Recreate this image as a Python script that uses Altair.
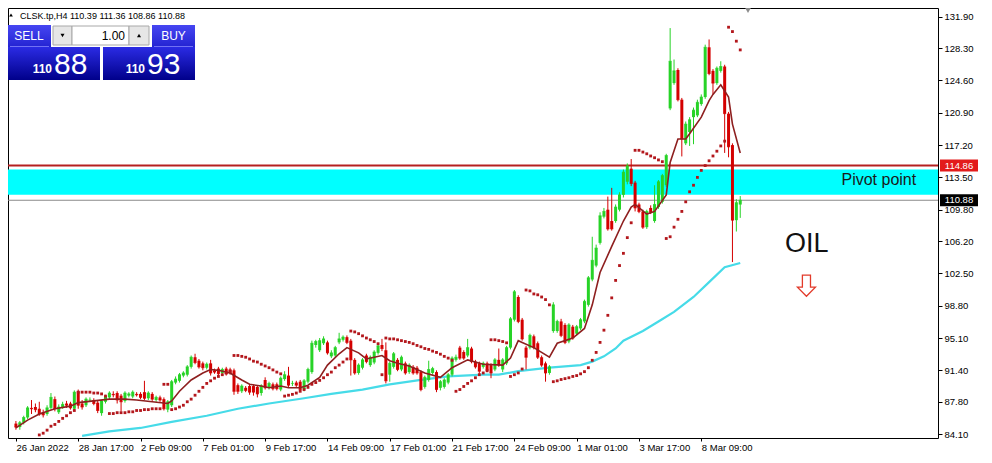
import altair as alt
import pandas as pd

# ---------------- values ----------------
symbol = "CLSK.tp,H4"
date_labels = ["26 Jan 2022", "28 Jan 17:00", "2 Feb 09:00", "7 Feb 01:00", "9 Feb 17:00",
               "14 Feb 09:00", "17 Feb 01:00", "21 Feb 17:00", "24 Feb 09:00", "1 Mar 01:00",
               "3 Mar 17:00", "8 Mar 09:00"]
bars_per_label = 16
price_ticks = [131.90, 128.30, 124.60, 120.90, 117.20, 113.50, 109.80, 106.20,
               102.50, 98.80, 95.10, 91.40, 87.80, 84.10]

opens = [
    85.3, 84.9, 85.4, 86.0, 87.1, 87.2, 87.0, 86.6, 86.4, 87.1,
    88.1, 86.6, 87.2, 87.6, 87.6, 87.0, 89.0, 87.6, 87.4, 88.0,
    88.0, 87.7, 86.5, 87.8, 88.3, 88.7, 88.8, 88.5, 87.9, 88.5,
    88.4, 88.7, 88.7, 88.9, 88.2, 88.7, 88.0, 88.3, 88.1, 86.9,
    87.4, 90.0, 90.2, 90.8, 90.9, 91.8, 92.9, 92.5, 92.2, 91.7,
    92.2, 91.4, 91.6, 91.1, 91.6, 91.5, 91.4, 89.7, 89.0, 89.4,
    89.6, 89.6, 89.5, 88.8, 90.3, 89.4, 89.8, 89.8, 89.2, 90.4,
    90.8, 89.9, 90.0, 90.1, 89.2, 90.1, 91.2, 94.3, 93.7, 94.5,
    94.6, 93.0, 93.1, 94.6, 94.9, 95.2, 94.8, 92.6, 91.1, 91.7,
    93.1, 92.0, 92.3, 93.4, 94.3, 93.7, 90.9, 91.8, 92.6, 91.5,
    92.2, 91.2, 91.8, 91.7, 91.2, 89.5, 90.3, 91.1, 91.2, 89.4,
    89.5, 90.0, 90.9, 92.6, 94.0, 93.5, 93.1, 93.9, 92.4, 92.2,
    91.8, 92.2, 92.0, 91.5, 92.6, 91.5, 92.2, 94.0, 97.2, 99.8,
    97.2, 94.0, 94.0, 95.3, 94.5, 92.9, 92.2, 91.1, 95.9, 95.9,
    97.0, 96.6, 94.7, 96.4, 95.6, 96.2, 97.0, 98.9, 101.8, 103.4,
    106.0, 109.0, 109.8, 108.5, 108.5, 109.8, 111.5, 113.0, 114.5, 112.9,
    110.4, 109.6, 107.8, 110.0, 108.5, 110.1, 110.7, 112.6, 121.4, 124.3,
    125.8, 122.4, 117.4, 118.7, 120.4, 120.6, 121.9, 122.7, 128.4, 125.7,
    124.3, 125.7, 126.2, 120.8, 117.2, 108.6, 110.39]

closes = [
    84.9, 85.4, 86.0, 87.1, 87.0, 86.9, 86.4, 86.3, 87.1, 88.3,
    87.0, 87.2, 87.5, 87.4, 87.1, 88.9, 87.4, 87.2, 88.1, 88.0,
    87.6, 86.8, 87.9, 88.4, 88.8, 88.6, 88.0, 87.8, 88.8, 88.7,
    88.9, 88.6, 88.3, 88.2, 88.8, 88.1, 88.3, 88.0, 87.0, 87.8,
    90.1, 90.4, 90.9, 91.1, 91.8, 92.9, 92.3, 91.8, 91.7, 92.1,
    91.1, 91.2, 91.0, 91.5, 91.0, 91.1, 89.0, 89.0, 89.6, 89.1,
    88.9, 88.9, 88.7, 89.6, 89.4, 89.9, 89.3, 89.3, 90.5, 90.9,
    89.7, 89.9, 89.7, 89.2, 90.2, 91.5, 94.5, 94.7, 94.8, 95.0,
    93.4, 93.4, 94.0, 95.0, 95.2, 94.6, 92.6, 91.1, 92.0, 92.6,
    92.4, 92.9, 93.5, 94.2, 93.9, 90.2, 92.2, 93.3, 91.5, 92.9,
    91.1, 92.0, 91.1, 91.1, 89.2, 90.6, 91.5, 91.6, 89.2, 90.1,
    90.3, 90.9, 92.8, 92.9, 92.8, 92.8, 94.0, 92.4, 91.8, 91.3,
    92.2, 91.4, 91.1, 92.6, 92.0, 92.6, 94.0, 97.3, 100.4, 97.0,
    95.0, 92.9, 95.4, 94.0, 92.9, 92.0, 91.1, 91.8, 98.9, 97.0,
    95.4, 94.6, 96.6, 95.1, 96.4, 97.2, 99.3, 102.0, 104.0, 105.4,
    109.1, 109.6, 107.6, 107.6, 110.1, 111.5, 114.1, 114.8, 112.8, 110.0,
    109.6, 107.8, 109.6, 109.5, 110.4, 113.0, 113.7, 116.0, 126.8, 125.7,
    122.4, 117.9, 119.6, 120.1, 121.2, 122.1, 122.7, 128.4, 125.4, 124.3,
    126.0, 126.2, 120.8, 117.0, 108.6, 110.6, 110.88]

highs = [
    85.6, 85.6, 86.2, 87.3, 88.0, 87.6, 87.8, 86.9, 87.4, 88.8,
    88.4, 87.5, 87.8, 87.9, 87.8, 89.1, 89.2, 88.0, 88.3, 88.3,
    88.2, 88.0, 88.0, 88.6, 89.0, 89.0, 89.0, 88.7, 89.0, 88.9,
    89.1, 88.9, 88.9, 90.2, 89.0, 88.9, 88.5, 88.5, 88.3, 88.0,
    90.3, 90.7, 91.1, 91.3, 92.0, 93.1, 93.3, 92.7, 92.4, 92.3,
    92.6, 91.6, 91.8, 91.7, 91.8, 91.7, 91.6, 89.9, 89.8, 89.6,
    89.8, 89.8, 89.7, 89.8, 90.6, 90.1, 90.0, 90.0, 90.7, 91.3,
    91.8, 90.2, 90.2, 90.3, 90.4, 91.7, 94.8, 94.9, 95.1, 95.3,
    94.8, 93.7, 94.2, 95.7, 95.4, 95.4, 95.0, 92.8, 92.2, 92.8,
    93.3, 93.1, 93.7, 94.5, 95.0, 94.6, 92.4, 93.5, 92.8, 93.1,
    92.4, 92.2, 92.0, 91.9, 91.4, 90.8, 92.5, 91.8, 91.4, 90.3,
    90.5, 91.1, 93.0, 93.2, 94.2, 93.7, 95.0, 94.1, 92.6, 92.4,
    92.4, 92.4, 92.2, 92.8, 93.9, 92.8, 94.2, 97.5, 100.6, 100.0,
    97.4, 94.2, 95.6, 95.5, 94.7, 93.1, 92.4, 92.0, 99.2, 97.2,
    97.3, 96.8, 96.8, 96.6, 96.6, 97.4, 99.5, 102.2, 106.7, 105.8,
    109.5, 110.0, 111.3, 112.3, 110.4, 111.8, 114.4, 115.1, 115.6, 113.1,
    110.6, 109.8, 109.8, 110.3, 112.6, 113.2, 113.9, 116.2, 130.6, 127.0,
    126.0, 122.6, 119.9, 120.4, 121.5, 122.4, 123.0, 128.7, 129.3, 125.9,
    126.2, 126.8, 126.4, 121.0, 117.4, 111.0, 111.36]

lows = [
    84.6, 84.6, 85.2, 85.8, 86.4, 86.6, 86.2, 86.0, 86.2, 86.9,
    86.7, 86.4, 87.0, 87.1, 86.9, 86.8, 87.0, 86.9, 87.2, 87.8,
    87.4, 86.5, 86.2, 87.6, 88.1, 88.3, 87.6, 86.7, 87.7, 88.3,
    88.2, 88.4, 88.1, 88.0, 88.0, 87.9, 87.8, 87.8, 86.8, 86.6,
    87.2, 89.8, 90.0, 90.6, 90.7, 91.6, 92.1, 91.6, 91.4, 91.5,
    90.8, 91.0, 90.8, 90.9, 90.8, 90.9, 88.6, 88.7, 88.8, 88.9,
    88.6, 88.5, 88.3, 88.5, 89.2, 89.2, 89.1, 89.1, 89.0, 90.2,
    89.5, 89.6, 89.5, 89.0, 89.0, 89.9, 91.0, 94.0, 93.5, 94.3,
    93.2, 92.8, 92.9, 94.4, 94.7, 94.4, 90.8, 90.9, 90.9, 91.5,
    92.2, 91.8, 92.1, 93.2, 93.6, 89.9, 90.1, 91.6, 91.3, 91.3,
    90.9, 91.0, 90.9, 90.9, 89.0, 89.3, 90.1, 90.9, 88.9, 89.1,
    89.3, 89.8, 90.7, 92.4, 92.6, 92.6, 92.9, 92.2, 91.6, 91.0,
    91.6, 91.2, 90.5, 91.3, 91.8, 91.2, 92.0, 93.8, 97.0, 96.8,
    94.8, 91.5, 93.8, 93.8, 92.7, 91.8, 90.1, 90.9, 95.7, 95.7,
    95.2, 94.4, 94.5, 94.9, 95.4, 96.0, 96.8, 98.7, 101.6, 103.2,
    105.8, 108.8, 107.4, 107.4, 108.3, 109.6, 111.2, 112.7, 112.5, 109.6,
    109.4, 107.6, 107.6, 109.3, 108.3, 109.9, 110.5, 112.4, 121.2, 124.1,
    122.2, 115.9, 117.2, 117.1, 117.3, 120.4, 121.7, 122.5, 125.2, 123.0,
    124.1, 125.5, 116.3, 115.8, 103.8, 107.3, 108.86]

# short moving average (dark red) sampled along the picture
ma_fast_idx = [0, 3, 6, 10, 14, 16, 20, 24, 28, 31, 35, 39, 40, 42, 45, 48, 50, 52, 55, 58,
               60, 63, 65, 68, 70, 73, 75, 78, 80, 83, 85, 88, 90, 92, 94, 96, 98, 101, 105, 109,
               112, 116, 120, 125, 127, 129, 130, 133, 137, 139, 143, 146, 148, 150, 153, 156, 158, 159, 162, 164,
               167, 168, 170, 172, 173, 176, 178, 179, 181, 183, 184, 186]
ma_fast_val = [84.8, 85.7, 86.4, 87.0, 87.3, 87.7, 87.9, 88.1, 88.1, 88.0, 87.8, 87.6, 87.9, 89.0, 90.3, 91.1, 91.5, 91.4, 91.1, 90.3,
               89.8, 89.6, 89.4, 89.6, 89.4, 89.4, 89.7, 90.6, 92.0, 93.3, 94.0, 93.4, 92.7, 92.9, 93.1, 92.5, 92.2, 91.9, 91.1, 90.6,
               91.7, 92.6, 92.1, 92.0, 92.8, 94.8, 94.6, 94.0, 92.9, 94.5, 95.1, 96.2, 98.9, 102.6, 105.6, 108.5, 110.1, 110.4, 109.3, 109.6,
               111.5, 115.2, 117.9, 117.9, 118.5, 120.4, 122.3, 123.0, 124.1, 122.7, 119.6, 116.3]

# long moving average (cyan)
ma_slow_idx = [17, 24, 32, 40, 49, 57, 65, 74, 81, 89, 96, 104, 111, 120, 124, 129, 137, 145, 148, 151,
               154, 156, 161, 165, 169, 174, 178, 182, 186]
ma_slow_val = [83.9, 84.4, 84.8, 85.5, 86.2, 87.0, 87.6, 88.2, 88.7, 89.2, 89.8, 90.3, 90.7, 90.9, 90.9, 91.3, 91.7, 92.0, 92.4, 93.0,
               93.9, 94.8, 95.9, 97.0, 98.1, 99.8, 101.5, 103.2, 103.7]

# parabolic SAR dots: (first bar, values)
sar_segments = [
    (6, [84.0, 84.2, 84.55, 85.0, 85.2, 85.55, 85.9, 86.2, 86.55, 86.8]),
    (16, [88.9, 88.9, 88.9, 88.9, 88.8, 88.8, 88.7, 88.45]),
    (24, [86.45, 86.45, 86.55, 86.55, 86.55, 86.65, 86.65, 86.8, 86.8, 86.9, 86.9, 87.0, 87.0, 87.0]),
    (38, [89.8, 89.8]),
    (40, [86.9, 87.0, 87.2, 87.4, 87.8, 88.1, 88.55, 89.0, 89.45, 89.9, 90.2, 90.5, 90.7, 90.9, 91.1, 91.3]),
    (56, [93.1, 93.1, 93.0, 92.9, 92.7, 92.45, 92.35, 92.1, 91.9, 91.7, 91.45, 91.2, 91.0]),
    (69, [88.45, 88.55, 88.65, 88.8, 89.0, 89.2, 89.45, 89.8, 90.0, 90.25, 90.55, 90.9, 91.2, 91.7, 92.0, 92.35, 92.7]),
    (86, [95.9, 95.8, 95.6, 95.35, 95.1, 94.9, 94.7, 94.45]),
    (94, [90.9]),
    (95, [95.1, 95.0, 95.0, 94.9, 94.8, 94.7, 94.6, 94.45, 94.25, 94.1, 93.9, 93.8, 93.6, 93.45, 93.25, 93.0, 92.8, 92.55]),
    (113, [89.0, 89.2, 89.55, 89.9, 90.2, 90.55, 90.9, 91.1, 91.35]),
    (122, [94.9, 94.9, 94.8, 94.7, 94.55]),
    (127, [90.7, 90.9, 91.1, 91.55]),
    (131, [100.6, 100.5, 100.15, 100.05, 99.8, 99.5, 98.9]),
    (138, [90.1, 90.2, 90.35, 90.45, 90.55, 90.7, 90.8, 91.0, 91.25, 91.7, 92.55, 93.45, 94.6, 96.0, 97.7,
           99.7, 101.7, 103.4, 104.8, 106.6, 108.3]),
    (159, [116.6, 116.6, 116.4, 116.2, 115.95, 115.75, 115.5, 115.3]),
    (167, [106.5, 106.7, 107.8, 108.7, 109.6, 110.7, 111.85, 112.6, 113.5, 114.3, 114.85, 115.4, 115.95,
           116.5, 117.1, 117.65]),
    (183, [130.7, 130.2, 129.1, 128.1]),
]

pivot_level = 114.86
zone_low, zone_high = 111.51, 114.41
bid, ask = 110.88, 110.93
lot = "1.00"

# annotation anchors (bar, price)
pivot_text_at = (212, 112.62)
oil_text_at = (197.5, 104.94)
arrow_at = (203, 101.09)
shift_marker_bar = 188

# ---------------- chart ----------------
FONT = "Liberation Sans"
GREEN = "#27d327"
RED = "#d40000"
SAR_COLOR = "#b3171c"
MA_FAST = "#8e1f1f"
MA_SLOW = "#46dbe8"

W, H = 930, 430
X_DOMAIN = [-0.75, 235.5]
Y_DOMAIN = [83.65, 132.9]
PX_PER_PRICE = H / (Y_DOMAIN[1] - Y_DOMAIN[0])

xs = alt.Scale(domain=X_DOMAIN, nice=False, zero=False)
ys = alt.Scale(domain=Y_DOMAIN, nice=False, zero=False)

candles = pd.DataFrame({"i": list(range(len(opens))), "o": opens, "h": highs, "l": lows, "c": closes})
fast = pd.DataFrame({"i": ma_fast_idx, "v": ma_fast_val})
slow = pd.DataFrame({"i": ma_slow_idx, "v": ma_slow_val})
sar = pd.DataFrame([{"i": s + k, "v": v} for s, vals in sar_segments for k, v in enumerate(vals)])

label_expr = "[" + ",".join("'%s'" % s for s in date_labels) + "][round(datum.value / %d)]" % bars_per_label
x_axis = alt.Axis(values=[k * bars_per_label for k in range(len(date_labels))], labelExpr=label_expr,
                  labelAlign="left", labelAngle=0, labelPadding=1, tickSize=3, labelOverlap=False,
                  labelFlush=False, labelBaseline="top", tickCount=40)
y_axis = alt.Axis(orient="right", values=price_ticks, format=".2f", tickSize=4, labelPadding=2,
                  labelOverlap=False, labelFlush=False, tickCount=40)

X = lambda f: alt.X(f, scale=xs, title=None)
Y = lambda f: alt.Y(f, scale=ys, title=None)
up_color = alt.condition("datum.c >= datum.o", alt.value(GREEN), alt.value(RED))

ONE = pd.DataFrame({"k": [0]})

def px_rect(x1, y1, x2, y2, **mk):
    return alt.Chart(ONE).mark_rect(**mk).encode(
        x=alt.value(x1), x2=alt.value(x2), y=alt.value(y1), y2=alt.value(y2))

def px_text(x, y, text, size, color="white", align="left", weight="normal"):
    return alt.Chart(ONE).mark_text(text=text, fontSize=size, color=color, align=align,
                                    baseline="alphabetic", font=FONT, fontWeight=weight).encode(
        x=alt.value(x), y=alt.value(y))

def px_point(x, y, shape, size, color):
    return alt.Chart(ONE).mark_point(shape=shape, size=size, filled=True, color=color, opacity=1).encode(
        x=alt.value(x), y=alt.value(y))

# background zone and levels
zone = alt.Chart(pd.DataFrame({"a": [zone_low], "b": [zone_high]})).mark_rect(color="#00ffff").encode(
    x=alt.value(0), x2=alt.value(W), y=Y("a:Q"), y2="b:Q")
pivot_rule = alt.Chart(pd.DataFrame({"p": [pivot_level]})).mark_rule(color="#b52020", strokeWidth=2).encode(y=Y("p:Q"))
bid_rule = alt.Chart(pd.DataFrame({"p": [bid]})).mark_rule(color="#8a8a8a", strokeWidth=1).encode(y=Y("p:Q"))

slow_line = alt.Chart(slow).mark_line(color=MA_SLOW, strokeWidth=2.2).encode(x=X("i:Q"), y=Y("v:Q"))

base = alt.Chart(candles).encode(x=alt.X("i:Q", scale=xs, axis=x_axis, title=None))
wicks = base.mark_rule(strokeWidth=1).encode(y=alt.Y("l:Q", scale=ys, axis=y_axis, title=None),
                                             y2="h:Q", color=up_color)
bodies = base.mark_bar(size=3).encode(y=Y("o:Q"), y2="c:Q", color=up_color)
doji = base.mark_tick(orient="horizontal", size=3, thickness=1).encode(y=Y("c:Q"), color=up_color)

fast_line = alt.Chart(fast).mark_line(color=MA_FAST, strokeWidth=1.6).encode(x=X("i:Q"), y=Y("v:Q"))
sar_pts = alt.Chart(sar).mark_square(size=8, color=SAR_COLOR, opacity=1).encode(x=X("i:Q"), y=Y("v:Q"))

# price tags on the right
half = 6.0 / PX_PER_PRICE
tags = pd.DataFrame({"p": [pivot_level, bid], "lo": [pivot_level - half, bid - half],
                     "hi": [pivot_level + half, bid + half], "t": ["%.2f" % pivot_level, "%.2f" % bid],
                     "fill": ["#e31b1b", "#000000"]})
tag_boxes = alt.Chart(tags).mark_rect().encode(
    x=alt.value(W + 2), x2=alt.value(W + 40), y=Y("lo:Q"), y2="hi:Q",
    color=alt.Color("fill:N", scale=None, legend=None))
tag_text = alt.Chart(tags).mark_text(color="white", fontSize=9.5, font=FONT, align="center",
                                     baseline="middle").encode(
    x=alt.value(W + 21), y=Y("p:Q"), text="t:N")

# annotations anchored to bar/price
ann = pd.DataFrame({"i": [pivot_text_at[0], oil_text_at[0]], "v": [pivot_text_at[1], oil_text_at[1]],
                    "t": ["Pivot point", "OIL"]})
pivot_txt = alt.Chart(ann.iloc[[0]]).mark_text(fontSize=16, font=FONT, color="#1a1a1a", align="left",
                                               baseline="alphabetic").encode(x=X("i:Q"), y=Y("v:Q"), text="t:N")
oil_txt = alt.Chart(ann.iloc[[1]]).mark_text(fontSize=27, font=FONT, color="#111111", align="left",
                                             baseline="alphabetic").encode(x=X("i:Q"), y=Y("v:Q"), text="t:N")
ARROW = "M-0.45,-1.17 L0.45,-1.17 L0.45,0.15 L1,0.15 L0,1.17 L-1,0.15 L-0.45,0.15 Z"
arrow = alt.Chart(pd.DataFrame({"i": [arrow_at[0]], "v": [arrow_at[1]]})).mark_point(
    shape=ARROW, size=324, filled=True, fill="white", stroke="#e23a2a", strokeWidth=1.3, opacity=1).encode(
    x=X("i:Q"), y=Y("v:Q"))
shift_marker = alt.Chart(pd.DataFrame({"i": [shift_marker_bar]})).mark_point(
    shape="triangle-down", size=45, filled=True, color="#8c8c8c", opacity=1).encode(
    x=X("i:Q"), y=alt.value(2))

# one-click trading panel and header
GRAD_BTN = {"gradient": "linear", "x1": 0, "y1": 0, "x2": 0, "y2": 1,
            "stops": [{"offset": 0, "color": "#4646f2"}, {"offset": 1, "color": "#2424d2"}]}
GRAD_QUOTE = {"gradient": "linear", "x1": 0, "y1": 0, "x2": 0, "y2": 1,
              "stops": [{"offset": 0, "color": "#2b2be4"}, {"offset": 1, "color": "#00008a"}]}
bid_s, ask_s = "%.2f" % bid, "%.2f" % ask
header = "%s  %.2f %.2f %.2f %.2f" % (symbol, opens[-1], highs[-1], lows[-1], closes[-1])

panel = [
    px_point(3, 7, "triangle-up", 14, "black"),
    px_text(12, 11, header, 9, color="black"),
    px_rect(0, 17, 43, 39, fill=GRAD_BTN),
    px_rect(0, 39, 92, 72, fill=GRAD_QUOTE),
    px_rect(144, 17, 187, 39, fill=GRAD_BTN),
    px_rect(95, 39, 187, 72, fill=GRAD_QUOTE),
    px_rect(2, 38, 41, 38.8, fill="#8c8cff"),
    px_rect(146, 38, 185, 38.8, fill="#8c8cff"),
    px_rect(45, 18, 64, 37, fill="#e6e6e6", stroke="#a8a8a8", strokeWidth=1),
    px_rect(64, 18, 121, 37, fill="white", stroke="#a8a8a8", strokeWidth=1),
    px_rect(121, 18, 141, 37, fill="#e6e6e6", stroke="#a8a8a8", strokeWidth=1),
    px_point(54.5, 27.5, "triangle-down", 16, "black"),
    px_point(131, 27.5, "triangle-up", 16, "black"),
    px_text(117, 32, lot, 12, color="black", align="right"),
    px_text(21, 32, "SELL", 12, align="center"),
    px_text(165.5, 32, "BUY", 12, align="center"),
    px_text(44, 65, bid_s.split(".")[0], 12, align="right", weight="bold"),
    px_text(46, 66, bid_s.split(".")[1], 30),
    px_text(137, 65, ask_s.split(".")[0], 12, align="right", weight="bold"),
    px_text(139, 66, ask_s.split(".")[1], 30),
]

chart = alt.layer(
    zone, pivot_rule, bid_rule, slow_line, wicks, bodies, doji, fast_line, sar_pts,
    tag_boxes, tag_text, pivot_txt, oil_txt, arrow, shift_marker, *panel
).properties(
    width=W, height=H,
    padding={"left": 0, "top": 0, "right": 46, "bottom": 16},
    autosize=alt.AutoSizeParams(type="none"),
).configure_view(
    stroke="black", strokeWidth=1
).configure_axis(
    labelFont=FONT, labelFontSize=9.5, labelColor="black", tickColor="black",
    domain=False, grid=False, labelOverlap=False
)

chart.save("out.html", embed_options={"renderer": "svg", "actions": False})
